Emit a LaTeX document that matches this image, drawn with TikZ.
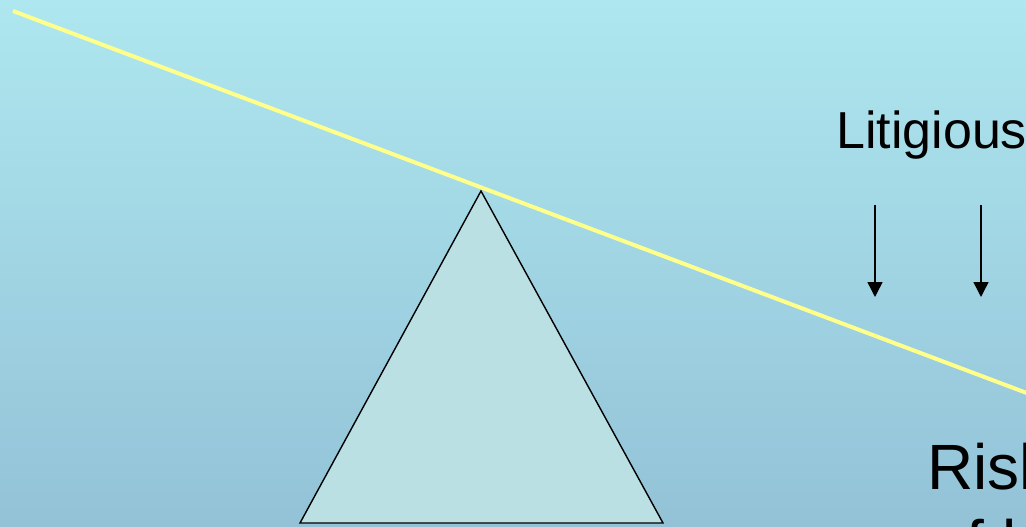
\documentclass[tikz,border=0pt]{standalone}
\usepackage{fontspec}
\setmainfont{Liberation Sans}
\usetikzlibrary{arrows.meta}
\definecolor{bgtop}{RGB}{174,231,239}
\definecolor{bgbot}{RGB}{147,194,215}
\definecolor{beam}{RGB}{255,255,140}
\definecolor{fulc}{RGB}{186,224,227}
\tikzset{
  weight/.style={line width=1.5pt,-{Triangle[length=15pt,width=15pt]}},
  label/.style={inner sep=0pt,anchor=base west,text=black},
}
\begin{document}
\begin{tikzpicture}[x=1pt,y=-1pt]
\useasboundingbox (0,0) rectangle (1026,527);
\clip (0,0) rectangle (1026,527);
\shade[top color=bgtop,bottom color=bgbot] (0,0) rectangle (1026,527);
% fulcrum
\coordinate (apex) at (481,191);
\coordinate (bl) at (300,523);
\coordinate (br) at (663,523);
\filldraw[fill=fulc,draw=black,line width=1.4pt,line join=miter] (apex) -- (br) -- (bl) -- cycle;
% beam
\coordinate (beamL) at (13,11);
\coordinate (beamR) at (1040,398);
\draw[beam,line width=4pt] (beamL) -- (beamR);
% text
\node[label,font=\fontsize{52}{62}\selectfont] (lit) at (836,148) {Litigious};
\coordinate (a1s) at (875,205);
\coordinate (a1e) at (875,297);
\coordinate (a2s) at (981,205);
\coordinate (a2e) at (981,297);
\draw[weight] (a1s) -- (a1e);
\draw[weight] (a2s) -- (a2e);
\node[label,font=\fontsize{64}{75}\selectfont] (risk) at (927,489) {Risk};
\node[label,font=\fontsize{64}{75}\selectfont] (ofl) at (931,565) {of l};
\end{tikzpicture}
\end{document}
